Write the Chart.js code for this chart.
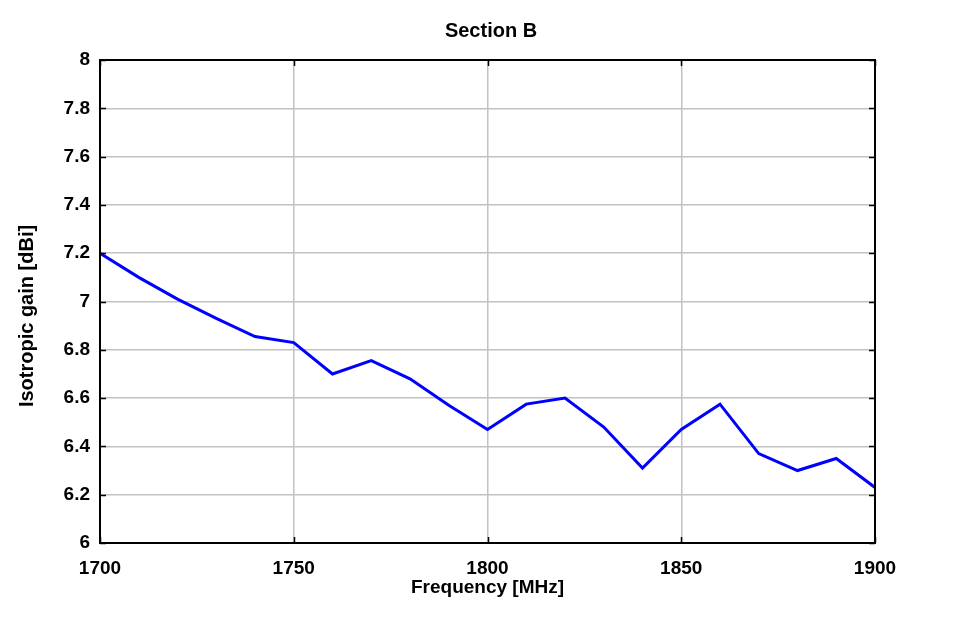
<!DOCTYPE html>
<html>
<head>
<meta charset="utf-8">
<script src="https://cdn.jsdelivr.net/npm/chart.js@4/dist/chart.umd.min.js"></script>
<style>
  html, body { margin: 0; padding: 0; background: #fff; }
  #wrap { width: 968px; height: 618px; }
</style>
</head>
<body>
<div id="wrap"><canvas id="c" width="968" height="618"></canvas></div>
<script>
// Section B — isotropic gain vs. frequency
var freqs = [1700, 1710, 1720, 1730, 1740, 1750, 1760, 1770, 1780, 1790, 1800,
             1810, 1820, 1830, 1840, 1850, 1860, 1870, 1880, 1890, 1900];
var gains = [7.20, 7.10, 7.01, 6.93, 6.855, 6.83, 6.70, 6.755, 6.68, 6.57, 6.47,
             6.575, 6.60, 6.48, 6.31, 6.47, 6.575, 6.37, 6.30, 6.35, 6.23];
var xTicks = [1700, 1750, 1800, 1850, 1900];
var yTicks = [6, 6.2, 6.4, 6.6, 6.8, 7, 7.2, 7.4, 7.6, 7.8, 8];
var yTitle = 'Isotropic gain [dBi]';

var FONT = "'Liberation Sans', Arial, sans-serif";

// black frame + inward ticks on all four sides, plus the y-axis title
// (the original sits a bit below the axis centre, so it is drawn here)
var frameTicks = {
  id: 'frameTicks',
  afterDraw: function (chart) {
    var ctx = chart.ctx, a = chart.chartArea;
    var xs = chart.scales.x, ys = chart.scales.y, len = 6;
    ctx.save();
    ctx.strokeStyle = '#000';
    ctx.lineWidth = 1.5;
    ctx.beginPath();
    xTicks.forEach(function (v) {
      var px = Math.round(xs.getPixelForValue(v)) + 0.5;
      ctx.moveTo(px, a.bottom); ctx.lineTo(px, a.bottom - len);
      ctx.moveTo(px, a.top); ctx.lineTo(px, a.top + len);
    });
    yTicks.forEach(function (v) {
      var py = Math.round(ys.getPixelForValue(v)) + 0.5;
      ctx.moveTo(a.left, py); ctx.lineTo(a.left + len, py);
      ctx.moveTo(a.right, py); ctx.lineTo(a.right - len, py);
    });
    ctx.stroke();
    ctx.lineWidth = 2;
    ctx.strokeRect(a.left, a.top, a.right - a.left, a.bottom - a.top);

    ctx.translate(27, 316);
    ctx.rotate(-Math.PI / 2);
    ctx.fillStyle = '#000';
    ctx.font = 'bold 20px ' + FONT;
    ctx.textAlign = 'center';
    ctx.textBaseline = 'middle';
    ctx.fillText(yTitle, 0, 0);
    ctx.restore();
  }
};

new Chart(document.getElementById('c').getContext('2d'), {
  type: 'line',
  data: {
    datasets: [{
      data: freqs.map(function (f, i) { return {x: f, y: gains[i]}; }),
      borderColor: '#0000ff', borderWidth: 3,
      pointRadius: 0, tension: 0, fill: false,
    }]
  },
  options: {
    responsive: false, animation: false,
    layout: {padding: {left: 14, right: 0, top: 0, bottom: 0}},
    plugins: {
      legend: {display: false},
      tooltip: {enabled: false},
      title: {
        display: true, text: 'Section B', color: '#000',
        font: {family: FONT, size: 20, weight: 'bold'},
        padding: {top: 19, bottom: 17},
      },
    },
    scales: {
      x: {
        type: 'linear', min: 1700, max: 1900,
        afterBuildTicks: function (s) { s.ticks = xTicks.map(function (v) { return {value: v}; }); },
        afterFit: function (s) { s.height = 75; },
        ticks: {
          color: '#000', padding: 14, maxRotation: 0,
          font: {family: FONT, size: 19, weight: 'bold'},
          callback: function (v) { return String(v); },
        },
        grid: {color: '#c2c2c2', lineWidth: 1.5, drawTicks: false},
        border: {display: false},
        title: {
          display: true, text: 'Frequency [MHz]', color: '#000',
          font: {family: FONT, size: 19, weight: 'bold'},
          padding: {top: 0, bottom: 19},
        },
      },
      y: {
        type: 'linear', min: 6, max: 8,
        afterBuildTicks: function (s) { s.ticks = yTicks.map(function (v) { return {value: v}; }); },
        afterFit: function (s) { s.width = 86; },
        ticks: {
          color: '#000', padding: 10,
          font: {family: FONT, size: 19, weight: 'bold'},
          callback: function (v) { return String(+v.toFixed(1)); },
        },
        grid: {color: '#c2c2c2', lineWidth: 1.5, drawTicks: false},
        border: {display: false},
      },
      // empty right-hand axis that only reserves the right margin
      yRight: {
        type: 'linear', position: 'right', min: 6, max: 8,
        afterFit: function (s) { s.width = 93; },
        ticks: {display: false},
        grid: {display: false},
        border: {display: false},
      },
    },
  },
  plugins: [frameTicks],
});
</script>
</body>
</html>
